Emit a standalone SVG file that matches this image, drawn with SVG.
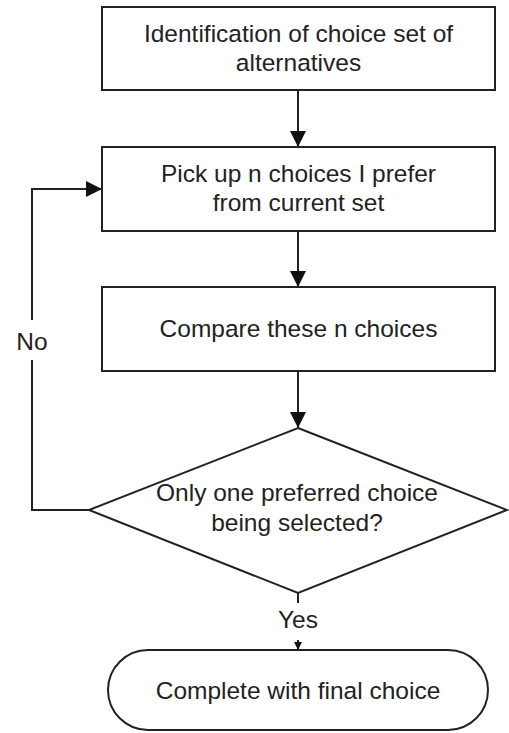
<svg xmlns="http://www.w3.org/2000/svg" width="509" height="733" viewBox="0 0 509 733">
<style>
.shape{fill:#fff;stroke:#222;stroke-width:2}
.conn{fill:none;stroke:#222;stroke-width:2}
text{font-family:"Liberation Sans",Arial,sans-serif;font-size:24.5px;fill:#222;text-anchor:middle}
</style>
<defs>
<marker id="arr" viewBox="0 0 16 16" refX="16" refY="8" markerWidth="16" markerHeight="16" markerUnits="userSpaceOnUse" orient="auto">
<path d="M0,0 L16,8 L0,16 Z" fill="#111"/>
</marker>
<marker id="arrs" viewBox="0 0 8 8" refX="8" refY="4" markerWidth="8" markerHeight="8" markerUnits="userSpaceOnUse" orient="auto">
<path d="M0,0 L8,4 L0,8 Z" fill="#111"/>
</marker>
</defs>
<rect width="509" height="733" fill="#fff"/>
<g id="connectors">
<line class="conn" x1="298" y1="90" x2="298" y2="147" marker-end="url(#arr)"/>
<line class="conn" x1="298" y1="231" x2="298" y2="287" marker-end="url(#arr)"/>
<line class="conn" x1="298" y1="371" x2="298" y2="428" marker-end="url(#arr)"/>
<polyline class="conn" points="89,510 32,510 32,360"/>
<polyline class="conn" points="32,320 32,189 102,189" marker-end="url(#arr)"/>
<line class="conn" x1="298" y1="593" x2="298" y2="603"/>
<line class="conn" x1="298" y1="640" x2="298" y2="650" marker-end="url(#arrs)"/>
<text x="32" y="350">No</text>
<text x="298" y="628">Yes</text>
</g>
<g id="node1">
<rect class="shape" x="102" y="7" width="393" height="83"/>
<text x="298.5" y="42">Identification of choice set of</text>
<text x="298.5" y="71">alternatives</text>
</g>
<g id="node2">
<rect class="shape" x="102" y="147" width="393" height="84"/>
<text x="298.5" y="182">Pick up n choices I prefer</text>
<text x="298.5" y="211">from current set</text>
</g>
<g id="node3">
<rect class="shape" x="102" y="287" width="393" height="84"/>
<text x="298.5" y="337">Compare these n choices</text>
</g>
<g id="decision">
<polygon class="shape" points="298,428 507,510 298,593 89,510"/>
<text x="297" y="501">Only one preferred choice</text>
<text x="297" y="531">being selected?</text>
</g>
<g id="terminal">
<rect class="shape" x="108" y="650" width="380" height="80" rx="40" ry="40"/>
<text x="298" y="699">Complete with final choice</text>
</g>
</svg>
